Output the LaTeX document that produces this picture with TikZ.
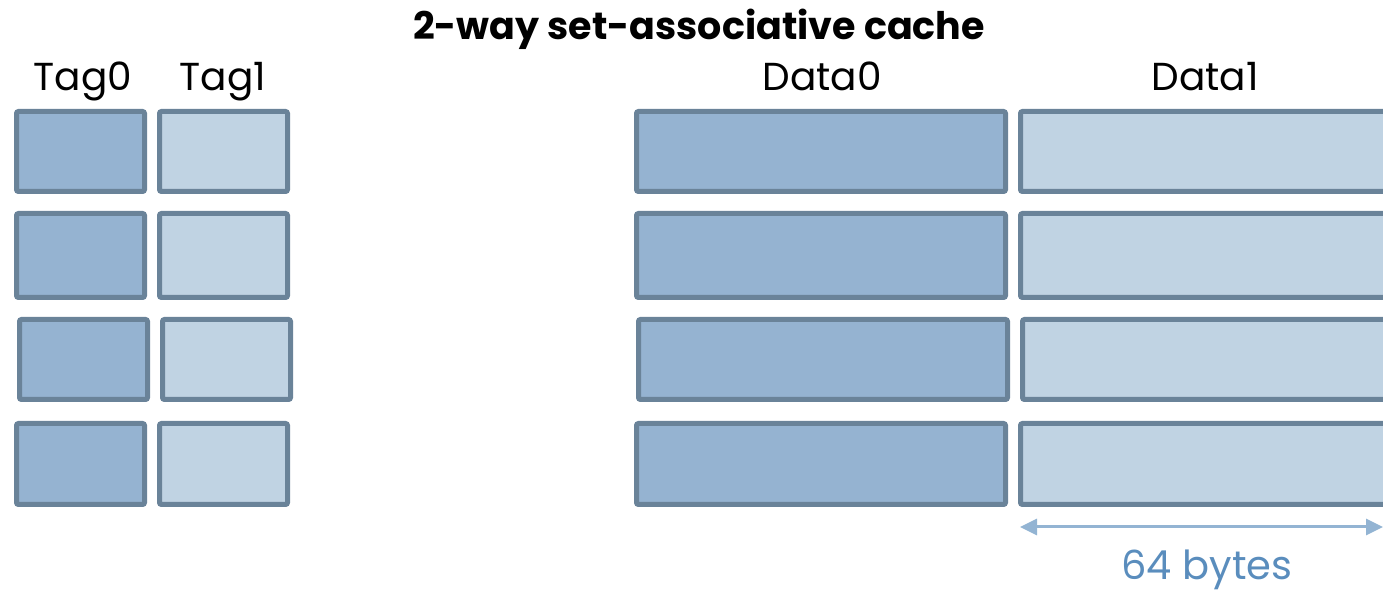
\documentclass[tikz,border=0pt]{standalone}
\usepackage{fontspec}
\setmainfont{Poppins}
\usetikzlibrary{arrows.meta}
\definecolor{edge}{HTML}{6A8399}
\definecolor{waydark}{HTML}{95B3D1}
\definecolor{waylight}{HTML}{C0D3E3}
\definecolor{spanline}{HTML}{93B4D3}
\definecolor{spantext}{HTML}{5A8DBD}
\tikzset{
  cell/.style={draw=edge, line width=2.5pt, rounded corners=1pt, inner sep=0pt, anchor=north west},
  tagcell/.style={cell, minimum width=64pt, minimum height=40pt},
  datacell/.style={cell, minimum width=184.5pt, minimum height=40pt},
  way0/.style={fill=waydark},
  way1/.style={fill=waylight},
  head/.style={font=\fontsize{19.5}{22}\selectfont, inner sep=0pt, anchor=base},
}
\begin{document}
\begin{tikzpicture}[x=0.5pt,y=-0.5pt]
\useasboundingbox (0,0) rectangle (1383,592);
\clip (0,0) rectangle (1383,592);

% title and column headings
\node[font=\fontsize{19}{22}\selectfont\bfseries, inner sep=0pt, anchor=base] (title) at (699,40) {2-way set-associative cache};
\node[head] (h0) at (83,91) {Tag0};
\node[head] (h1) at (223,91) {Tag1};
\node[head] (h2) at (822,91) {Data0};
\node[head] (h3) at (1205,91) {Data1};

% four sets, each with two tags and two data blocks
\node[tagcell, way0] (t10) at (14,109) {};
\node[tagcell, way1] (t11) at (157,109) {};
\node[datacell, way0] (d10) at (634,109) {};
\node[datacell, way1] (d11) at (1018,109) {};

\node[tagcell, way0, minimum height=42pt] (t20) at (14,211) {};
\node[tagcell, way1, minimum height=42pt] (t21) at (157,211) {};
\node[datacell, way0, minimum height=42pt] (d20) at (634,211) {};
\node[datacell, way1, minimum height=42pt] (d21) at (1018,211) {};

\node[tagcell, way0] (t30) at (17,317) {};
\node[tagcell, way1] (t31) at (160,317) {};
\node[datacell, way0] (d30) at (636,317) {};
\node[datacell, way1] (d31) at (1020,317) {};

\node[tagcell, way0, minimum height=40.5pt] (t40) at (14,421) {};
\node[tagcell, way1, minimum height=40.5pt] (t41) at (157,421) {};
\node[datacell, way0, minimum height=40.5pt] (d40) at (634,421) {};
\node[datacell, way1, minimum height=40.5pt] (d41) at (1018,421) {};

% block size span
\coordinate (sL) at (1020,527);
\coordinate (sR) at (1383,527);
\draw[spanline, line width=1.5pt, {Triangle[length=8.5pt,width=8pt]}-{Triangle[length=8.5pt,width=8pt]}] (sL) -- (sR);
\node[font=\fontsize{20}{24}\selectfont, text=spantext, inner sep=0pt, anchor=base] (sz) at (1207,580) {64 bytes};
\end{tikzpicture}
\end{document}
